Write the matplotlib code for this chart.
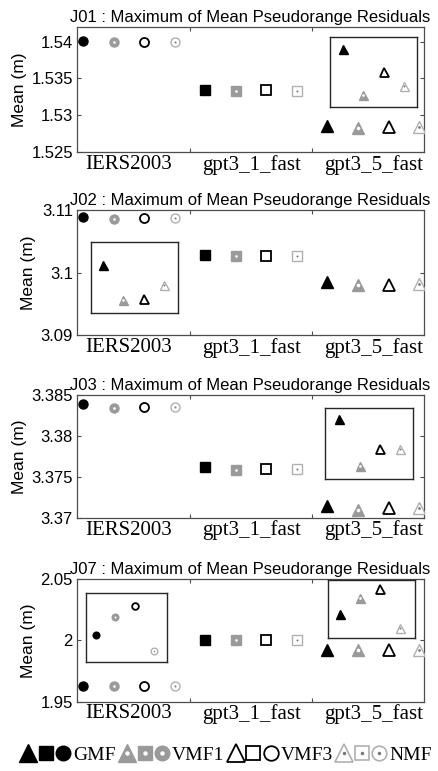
import numpy as np
import matplotlib
matplotlib.use('Agg')
from matplotlib import pyplot as plt
from matplotlib.lines import Line2D
from matplotlib.legend_handler import HandlerTuple
from matplotlib.ticker import FuncFormatter

# data
groups = ['IERS2003', 'gpt3_1_fast', 'gpt3_5_fast']
models = ['GMF', 'VMF1', 'VMF3', 'NMF']
stations = ['J01', 'J02', 'J03', 'J07']

j01 = [[1.54005, 1.53991, 1.54000, 1.53991],
       [1.53345, 1.53332, 1.53336, 1.53332],
       [1.52850, 1.52828, 1.52839, 1.52832]]
j02 = [[3.10894, 3.10861, 3.10866, 3.10871],
       [3.10285, 3.10258, 3.10264, 3.10269],
       [3.09850, 3.09800, 3.09802, 3.09821]]
j03 = [[3.38387, 3.38345, 3.38357, 3.38357],
       [3.37618, 3.37585, 3.37594, 3.37594],
       [3.37146, 3.37098, 3.37115, 3.37115]]
j07 = [[1.962800, 1.962892, 1.962945, 1.962722],
       [2.00060, 2.00052, 2.00055, 2.00052],
       [1.992200, 1.992279, 1.992324, 1.992129]]
all_data = [j01, j02, j03, j07]

ylims = [(1.525, 1.542), (3.09, 3.11), (3.37, 3.385), (1.95, 2.05)]
yticks = [[1.525, 1.53, 1.535, 1.54], [3.09, 3.1, 3.11],
          [3.37, 3.375, 3.38, 3.385], [1.95, 2.0, 2.05]]

# insets: (panel, group index, bounds in axes fraction, ylim, xlim)
insets = [(0, 2, [0.729, 0.36, 0.251, 0.56], (1.52822, 1.52856), (0.36, 4.64)),
          (1, 2, [0.040, 0.178, 0.251, 0.568], (3.09782, 3.09883), (0.4, 4.7)),
          (2, 2, [0.715, 0.318, 0.254, 0.574], (3.37085, 3.37157), (0.3, 4.65)),
          (3, 0, [0.026, 0.327, 0.233, 0.559], (1.962667, 1.963009), (0.5, 4.67)),
          (3, 2, [0.722, 0.523, 0.252, 0.471], (1.992082, 1.99237), (0.38, 4.75))]

shapes = ['o', 's', '^']
GRAY = '#9a9a9a'
LGRAY = '#b0b0b0'
SANS = 'Liberation Sans'
SERIF = 'Liberation Serif'


def draw_marker(ax, x, y, shape, model, ms):
    if shape == '^':
        ms = ms * 1.35
    if model == 'GMF':
        ax.plot(x, y, shape, ms=ms, mfc='k', mec='k', mew=1, zorder=3)
    elif model == 'VMF1':
        ax.plot(x, y, shape, ms=ms, mfc=GRAY, mec=GRAY, mew=1, zorder=3)
        ax.plot(x, y, 'o', ms=ms * 0.3, mfc='white', mec='white', mew=0, zorder=4)
    elif model == 'VMF3':
        ax.plot(x, y, shape, ms=ms, mfc='white', mec='k', mew=1.3, zorder=3)
    else:
        ax.plot(x, y, shape, ms=ms, mfc='white', mec=LGRAY, mew=1, zorder=3)
        ax.plot(x, y, 'o', ms=ms * 0.22, mfc='#777777', mec='#777777', mew=0, zorder=4)


fig = plt.figure(figsize=(4.38, 7.71), dpi=100)
bottoms = [0.803, 0.5655, 0.3285, 0.0899]
heights = [0.162, 0.162, 0.159, 0.159]

for p in range(4):
    ax = fig.add_axes([0.176, bottoms[p], 0.792, heights[p]])
    data = all_data[p]
    for g in range(3):
        for m in range(4):
            draw_marker(ax, g * 4 + m + 1, data[g][m], shapes[g], models[m], 6.5)
    ax.set_xlim(0.8, 12.16)
    ax.set_ylim(*ylims[p])
    ax.set_yticks(yticks[p])
    ax.yaxis.set_major_formatter(FuncFormatter(lambda v, pos: '%g' % v))
    ax.set_xticks([4.5, 8.5])
    ax.set_xticklabels([])
    ax.set_xticks([2.5, 6.5, 10.5], minor=True)
    ax.set_xticklabels(groups, minor=True, fontfamily=SERIF, fontsize=15)
    ax.tick_params(axis='x', which='minor', length=0, pad=2)
    ax.tick_params(which='major', direction='in', length=3, top=True, right=True,
                   color='0.3', width=0.8)
    ax.tick_params(axis='y', labelsize=12, pad=3)
    for lab in ax.get_yticklabels():
        lab.set_fontfamily(SANS)
    for sp in ax.spines.values():
        sp.set_color('0.3')
        sp.set_linewidth(0.9)
    ax.set_ylabel('Mean (m)', fontfamily=SANS, fontsize=12.5, labelpad=3)
    ax.set_title(stations[p] + ' : Maximum of Mean Pseudorange Residuals',
                 fontfamily=SANS, fontsize=12, pad=3.5)

    for (ip, g, bounds, iyl, ixl) in insets:
        if ip != p:
            continue
        ins = ax.inset_axes(bounds)
        for m in range(4):
            draw_marker(ins, m + 1, data[g][m], shapes[g], models[m], 4.8)
        ins.set_xlim(*ixl)
        ins.set_ylim(*iyl)
        ins.set_xticks([])
        ins.set_yticks([])
        for sp in ins.spines.values():
            sp.set_color('0.15')
            sp.set_linewidth(1.0)

# legend
handles = []
for m in models:
    parts = []
    for sh in ['^', 's', 'o']:
        ms = 13 if sh == '^' else 10.5
        if m == 'GMF':
            parts.append(Line2D([], [], ls='', marker=sh, ms=ms, mfc='k', mec='k'))
        elif m == 'VMF1':
            parts.append((Line2D([], [], ls='', marker=sh, ms=ms, mfc=GRAY, mec=GRAY),
                          Line2D([], [], ls='', marker='o', ms=3.2, mfc='white', mec='white', mew=0)))
        elif m == 'VMF3':
            parts.append(Line2D([], [], ls='', marker=sh, ms=ms, mfc='white', mec='k', mew=1.3))
        else:
            parts.append((Line2D([], [], ls='', marker=sh, ms=ms, mfc='white', mec=LGRAY, mew=1.2),
                          Line2D([], [], ls='', marker='o', ms=2.5, mfc='#777777', mec='#777777', mew=0)))
    handles.append(tuple(parts))

hmap = {h: HandlerTuple(ndivide=None, pad=0) for h in handles}
fig.legend(handles, models, loc='center', bbox_to_anchor=(0.515, 0.021), ncol=4,
           frameon=False, handler_map=hmap, numpoints=1, handlelength=2.7,
           handletextpad=0.05, columnspacing=0.15, borderaxespad=0,
           prop={'family': SERIF, 'size': 14})

fig.savefig('out.png', dpi=100)
